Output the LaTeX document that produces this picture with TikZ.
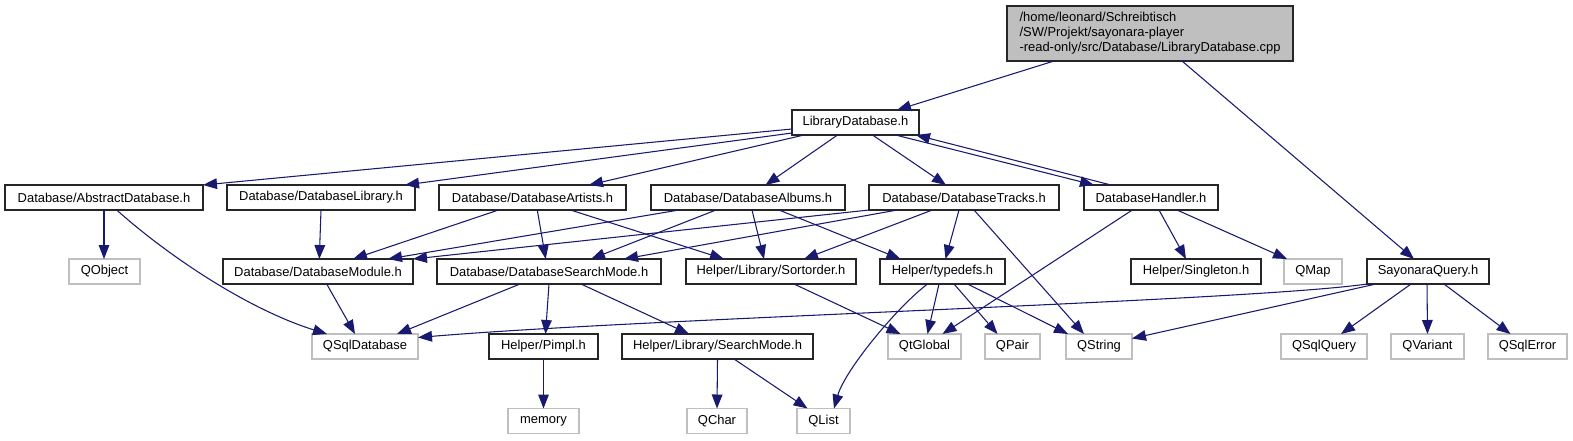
\documentclass[tikz,border=0pt]{standalone}
\usepackage{fontspec}
\setmainfont{Liberation Sans}
\usetikzlibrary{arrows.meta,calc}
\definecolor{edgeblue}{HTML}{191970}
\definecolor{greyS}{HTML}{BFBFBF}
\begin{document}
\begin{tikzpicture}[x=0.75pt,y=-0.75pt,
  base/.style={draw, rectangle, line width=0.9pt, inner sep=0pt, minimum height=18.75pt,
               font=\fontsize{9.7}{11.3}\selectfont, text=black},
  doc/.style={base, draw=black!85},
  ext/.style={base, draw=greyS},
  rootbox/.style={base, draw=black!85, fill=greyS, minimum height=41.25pt, align=left},
  bw/.style={minimum width=#1*0.75pt},
  dep/.style={draw=edgeblue, line width=0.8pt, -{Triangle[length=10.5pt,width=8pt]}}
]
\useasboundingbox (0,0) rectangle (1573,440);

% row 0
\node[rootbox, bw=286] (root) at (1150,33.5) {/home/leonard/Schreibtisch\\/SW/Projekt/sayonara-player\\-read-only/src/Database/LibraryDatabase.cpp};
% row 1
\node[doc, bw=127] (LD) at (855.5,122.5) {LibraryDatabase.h};
% row 2
\node[doc, bw=198] (ADB) at (104,197.5) {Database/AbstractDatabase.h};
\node[doc, bw=188] (DL) at (321,197.5) {Database/DatabaseLibrary.h};
\node[doc, bw=187] (DAr) at (532.5,197.5) {Database/DatabaseArtists.h};
\node[doc, bw=194] (DAl) at (748,197.5) {Database/DatabaseAlbums.h};
\node[doc, bw=190] (DT) at (964,197.5) {Database/DatabaseTracks.h};
\node[doc, bw=134] (DH) at (1151,197.5) {DatabaseHandler.h};
% row 3
\node[ext, bw=71] (QObject) at (104.5,271.5) {QObject};
\node[doc, bw=190] (DM) at (318,271.5) {Database/DatabaseModule.h};
\node[doc, bw=224] (DSM) at (549,271.5) {Database/DatabaseSearchMode.h};
\node[doc, bw=170] (SO) at (771,271.5) {Helper/Library/Sortorder.h};
\node[doc, bw=125] (TD) at (942.5,271.5) {Helper/typedefs.h};
\node[doc, bw=130] (SG) at (1196,271.5) {Helper/Singleton.h};
\node[ext, bw=58] (QMap) at (1313,271.5) {QMap};
\node[doc, bw=122] (SQ) at (1428,271.5) {SayonaraQuery.h};
% row 4
\node[ext, bw=106] (QSqlDB) at (365,346.5) {QSqlDatabase};
\node[doc, bw=109] (Pimpl) at (543.5,346.5) {Helper/Pimpl.h};
\node[doc, bw=191] (SM) at (717.5,346.5) {Helper/Library/SearchMode.h};
\node[ext, bw=73] (QtGlobal) at (924.5,346.5) {QtGlobal};
\node[ext, bw=55] (QPair) at (1012.5,346.5) {QPair};
\node[ext, bw=66] (QString) at (1099,346.5) {QString};
\node[ext, bw=86] (QSqlQuery) at (1324,346.5) {QSqlQuery};
\node[ext, bw=73] (QVariant) at (1427.5,346.5) {QVariant};
\node[ext, bw=79] (QSqlError) at (1527.5,346.5) {QSqlError};
% row 5
\node[ext, bw=71] (memory) at (543.5,421) {memory};
\node[ext, bw=60] (QChar) at (717,421) {QChar};
\node[ext, bw=53] (QList) at (823.5,421) {QList};

% edges from root
\draw[dep] ($(root)+(-96,27.5)$) -- ($(LD)+(41.5,-12.5)$);
\draw[dep] ($(root)+(32,27.5)$) -- ($(SQ)+(-14,-12.5)$);
% edges from LibraryDatabase.h
\draw[dep] ($(LD)+(-63.5,6.5)$) -- ($(ADB)+(99,-12.5)$);
\draw[dep] ($(LD)+(-63.5,10.5)$) -- ($(DL)+(84,-12.5)$);
\draw[dep] ($(LD)+(-51.5,12.5)$) -- ($(DAr)+(56.5,-12.5)$);
\draw[dep] ($(LD)+(-18,12.5)$) -- ($(DAl)+(17.5,-12.5)$);
\draw[dep] ($(LD)+(17,12.5)$) -- ($(DT)+(-18,-12.5)$);
\draw[dep] ($(LD)+(40,12.5)$) -- ($(DH)+(-57,-12.5)$);
\draw[dep] ($(DH)+(-40,-12.5)$) -- ($(LD)+(60.5,12.5)$);
% row 2 -> row 3
\draw[dep] ($(ADB)+(0,12.5)$) -- ($(QObject)+(-0.5,-12.5)$);
\draw[dep] ($(ADB)+(12.7,12.5)$) .. controls ($(ADB)+(63,57.5)$) and ($(QSqlDB)+(-118,-37.5)$) .. ($(QSqlDB)+(-38,-12.5)$);
\draw[dep] ($(DL)+(0,12.5)$) -- ($(DM)+(1.3,-12.5)$);
\draw[dep] ($(DAr)+(-34,12.5)$) -- ($(DM)+(35,-12.5)$);
\draw[dep] ($(DAr)+(4.8,12.5)$) -- ($(DSM)+(-3.3,-12.5)$);
\draw[dep] ($(DAr)+(38,12.5)$) -- ($(SO)+(-47,-12.5)$);
\draw[dep] ($(DAl)+(-69,12.5)$) -- ($(DM)+(70,-12.5)$);
\draw[dep] ($(DAl)+(-32,12.5)$) -- ($(DSM)+(42,-12.5)$);
\draw[dep] ($(DAl)+(4,12.5)$) -- ($(SO)+(-7,-12.5)$);
\draw[dep] ($(DAl)+(31,12.5)$) -- ($(TD)+(-42,-12.5)$);
\draw[dep] ($(DT)+(-95,12.5)$) -- ($(DM)+(95,-12.5)$);
\draw[dep] ($(DT)+(-66.7,12.5)$) -- ($(DSM)+(75,-12.5)$);
\draw[dep] ($(DT)+(-31.7,12.5)$) -- ($(SO)+(33,-12.5)$);
\draw[dep] ($(DT)+(-5,12.5)$) -- ($(TD)+(3,-12.5)$);
\draw[dep] ($(DT)+(10,12.5)$) -- ($(QString)+(-15,-12.5)$);
\draw[dep] ($(DH)+(-18.7,12.5)$) -- ($(QtGlobal)+(18,-12.5)$);
\draw[dep] ($(DH)+(8,12.5)$) -- ($(SG)+(-10,-12.5)$);
\draw[dep] ($(DH)+(26,12.5)$) -- ($(QMap)+(-26,-12.5)$);
% row 3 -> row 4/5
\draw[dep] ($(DM)+(8.7,12.5)$) -- ($(QSqlDB)+(-10,-12.5)$);
\draw[dep] ($(DSM)+(-29,12.5)$) -- ($(QSqlDB)+(32,-12.5)$);
\draw[dep] ($(DSM)+(0,12.5)$) -- ($(Pimpl)+(2,-12.5)$);
\draw[dep] ($(DSM)+(32,12.5)$) -- ($(SM)+(-28.5,-12.5)$);
\draw[dep] ($(SO)+(23,12.5)$) -- ($(QtGlobal)+(-24,-12.5)$);
\draw[dep] ($(TD)+(-3.5,12.5)$) -- ($(QtGlobal)+(3,-12.5)$);
\draw[dep] ($(TD)+(11.5,12.5)$) -- ($(QPair)+(-15,-12.5)$);
\draw[dep] ($(TD)+(25,12.5)$) -- ($(QString)+(-31,-12.5)$);
\draw[dep] ($(TD)+(-15,12.5)$) .. controls ($(TD)+(-45.5,35.5)$) and ($(QList)+(21.5,-51)$) .. ($(QList)+(10.5,-12.5)$);
\draw[dep] ($(SQ)+(-61,12.5)$) .. controls ($(SQ)+(-178,29.5)$) and ($(QSqlDB)+(285,-28.5)$) .. ($(QSqlDB)+(53,-9)$);
\draw[dep] ($(SQ)+(-52,12.5)$) -- ($(QString)+(33,-8)$);
\draw[dep] ($(SQ)+(-17,12.5)$) -- ($(QSqlQuery)+(17,-12.5)$);
\draw[dep] ($(SQ)+(-1,12.5)$) -- ($(QVariant)+(0,-12.5)$);
\draw[dep] ($(SQ)+(16,12.5)$) -- ($(QSqlError)+(-17,-12.5)$);
% row 4 -> row 5
\draw[dep] ($(Pimpl)+(0,12.5)$) -- ($(memory)+(0,-12.5)$);
\draw[dep] ($(SM)+(0,12.5)$) -- ($(QChar)+(0,-12.5)$);
\draw[dep] ($(SM)+(16.5,12.5)$) -- ($(QList)+(-16,-12.5)$);
\end{tikzpicture}
\end{document}
